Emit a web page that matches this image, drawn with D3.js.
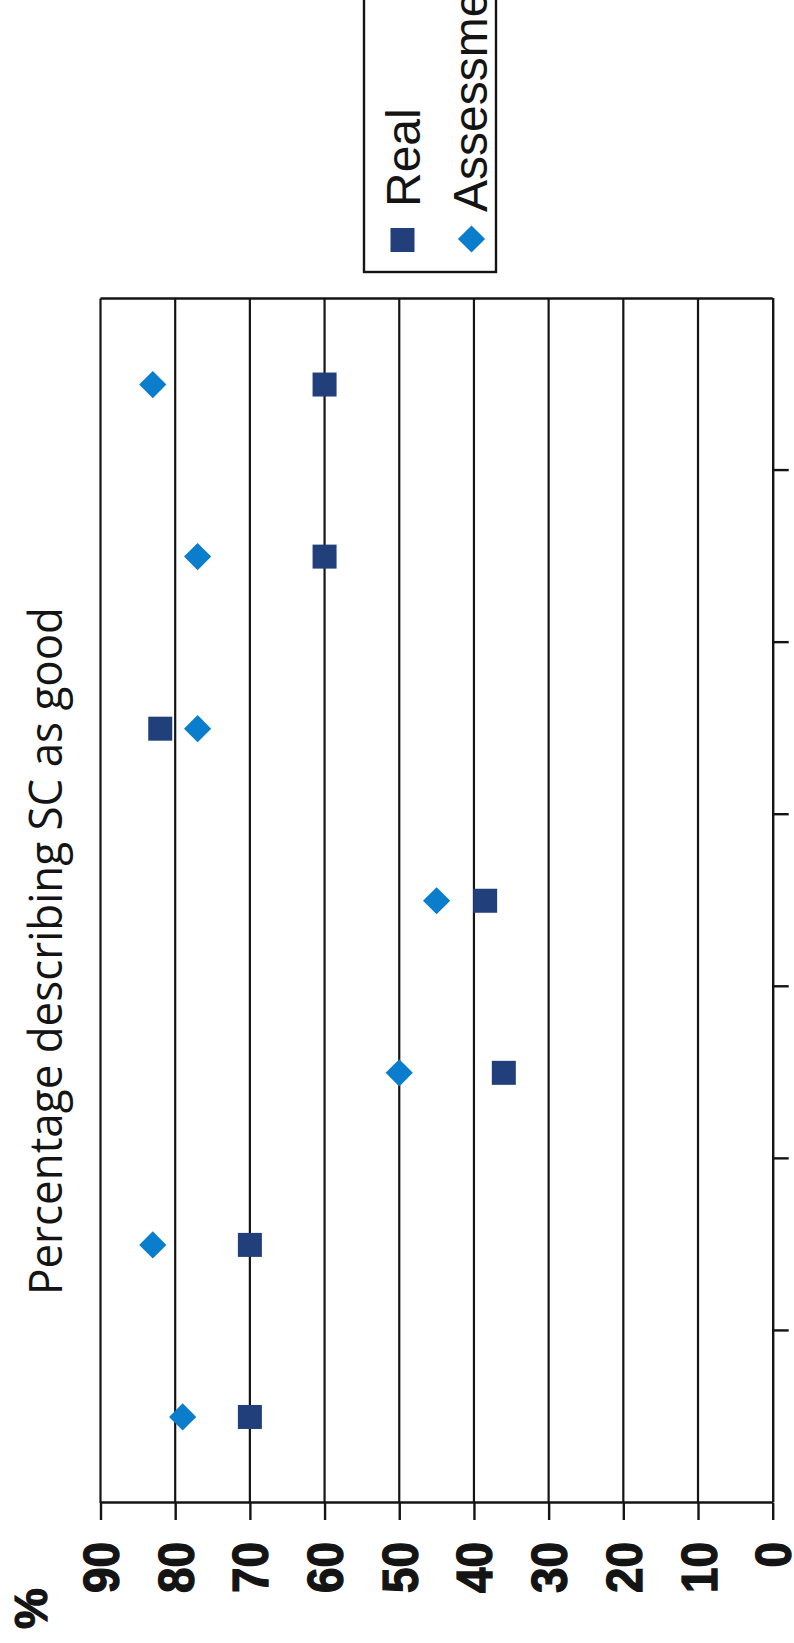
<!DOCTYPE html>
<html>
<head>
<meta charset="utf-8">
<script src="https://cdn.jsdelivr.net/npm/d3@7"></script>
<style>
  html, body { margin: 0; padding: 0; background: #fff; }
  svg { display: block; }
</style>
</head>
<body>
<svg id="chart" width="794" height="1643"></svg>
<script>
// ---- data ----
const categories = ["1", "2", "3", "4", "5", "6", "7"];
const realValues = [70, 70, 36, 38.5, 82, 60, 60];
const assessmentValues = [79, 83, 50, 45, 77, 77, 83];
const valueTicks = [0, 10, 20, 30, 40, 50, 60, 70, 80, 90];
const seriesNames = ["Real", "Assessment"];
const titleText = "Percentage describing SC as good";
const unitLabel = "%";

// ---- layout (chart drawn in its own frame, then turned a quarter left) ----
const W = 1643, H = 794;
const svg = d3.select("#chart");
svg.append("rect").attr("width", 794).attr("height", 1643).attr("fill", "#fff");
const g = svg.append("g").attr("transform", `translate(0,${W}) rotate(-90)`);

const plotLeft = 140, plotRight = 1344.5;
const x = d3.scaleBand().domain(categories).range([plotLeft, plotRight]);
const xb = d3.scaleLinear().domain([0, categories.length]).range([plotLeft, plotRight]);
const y = d3.scaleLinear().domain([0, 90]).range([772.7, 100.5]);

const ink = "#141414";

// gridlines
g.append("g").selectAll("line")
  .data(valueTicks.filter(v => v > 0))
  .join("line")
  .attr("x1", plotLeft).attr("x2", plotRight)
  .attr("y1", d => y(d)).attr("y2", d => y(d))
  .attr("stroke", ink).attr("stroke-width", 2.2);

// right border of plot area
g.append("line")
  .attr("x1", plotRight).attr("x2", plotRight)
  .attr("y1", y(0)).attr("y2", y(90))
  .attr("stroke", ink).attr("stroke-width", 2.4);

// category axis (no labels, ticks at band boundaries)
const catAxis = g.append("g")
  .attr("transform", `translate(0,${y(0)})`)
  .call(d3.axisBottom(xb)
    .tickValues(d3.range(1, categories.length))
    .tickFormat("")
    .tickSize(16)
    .tickSizeOuter(0));
catAxis.selectAll("path, line").attr("stroke", ink).attr("stroke-width", 2.4);

// value axis
const valAxis = g.append("g")
  .attr("transform", `translate(${plotLeft},0)`)
  .call(d3.axisLeft(y)
    .tickValues(valueTicks)
    .tickSize(17)
    .tickPadding(22)
    .tickSizeOuter(0));
valAxis.selectAll("path, line").attr("stroke", ink).attr("stroke-width", 2.4);
valAxis.selectAll("text")
  .attr("font-family", "'Liberation Sans', Arial, sans-serif")
  .attr("font-weight", "bold")
  .attr("font-size", 50)
  .attr("fill", ink)
  .attr("stroke", ink)
  .attr("stroke-width", 1.3)
  .attr("dy", "0.36em")
  .attr("textLength", d => String(d).length * 25.5)
  .attr("lengthAdjust", "spacingAndGlyphs");

// unit label
g.append("text")
  .attr("x", 14).attr("y", 47)
  .attr("font-family", "'Liberation Sans', Arial, sans-serif")
  .attr("font-weight", "bold")
  .attr("font-size", 46)
  .attr("fill", ink)
  .attr("stroke", ink)
  .attr("stroke-width", 1.2)
  .text(unitLabel);

// title
g.append("text")
  .attr("x", 692).attr("y", 62)
  .attr("text-anchor", "middle")
  .attr("font-family", "'Open Sans', 'Noto Sans', sans-serif")
  .attr("font-size", 46)
  .attr("fill", ink)
  .attr("textLength", 688)
  .attr("lengthAdjust", "spacingAndGlyphs")
  .text(titleText);

const realColor = "#213f7a";
const assessColor = "#0a7dcc";
const sq = 24;
const diamond = d3.symbol().type(d3.symbolSquare).size(370);

// Real series: squares
g.append("g").selectAll("rect")
  .data(categories.map((c, i) => ({c, v: realValues[i]})))
  .join("rect")
  .attr("x", d => x(d.c) + x.bandwidth() / 2 - sq / 2)
  .attr("y", d => y(d.v) - sq / 2)
  .attr("width", sq).attr("height", sq)
  .attr("fill", realColor);

// Assessment series: diamonds
g.append("g").selectAll("path")
  .data(categories.map((c, i) => ({c, v: assessmentValues[i]})))
  .join("path")
  .attr("d", diamond)
  .attr("transform", d => `translate(${x(d.c) + x.bandwidth() / 2},${y(d.v)}) rotate(45)`)
  .attr("fill", assessColor);

// legend
const lg = g.append("g");
lg.append("rect")
  .attr("x", 1371).attr("y", 364)
  .attr("width", 400).attr("height", 132)
  .attr("fill", "#fff").attr("stroke", ink).attr("stroke-width", 2.4);
lg.append("rect")
  .attr("x", 1403 - sq / 2).attr("y", 402.5 - sq / 2)
  .attr("width", sq).attr("height", sq)
  .attr("fill", realColor);
lg.append("path")
  .attr("d", diamond)
  .attr("transform", "translate(1404,471.5) rotate(45)")
  .attr("fill", assessColor);
lg.selectAll("text.leg")
  .data(seriesNames)
  .join("text")
  .attr("class", "leg")
  .attr("x", (d, i) => i === 0 ? 1436 : 1431)
  .attr("y", (d, i) => i === 0 ? 420 : 487)
  .attr("font-family", "'Liberation Sans', Arial, sans-serif")
  .attr("font-size", 48)
  .attr("fill", ink)
  .text(d => d);
</script>
</body>
</html>
